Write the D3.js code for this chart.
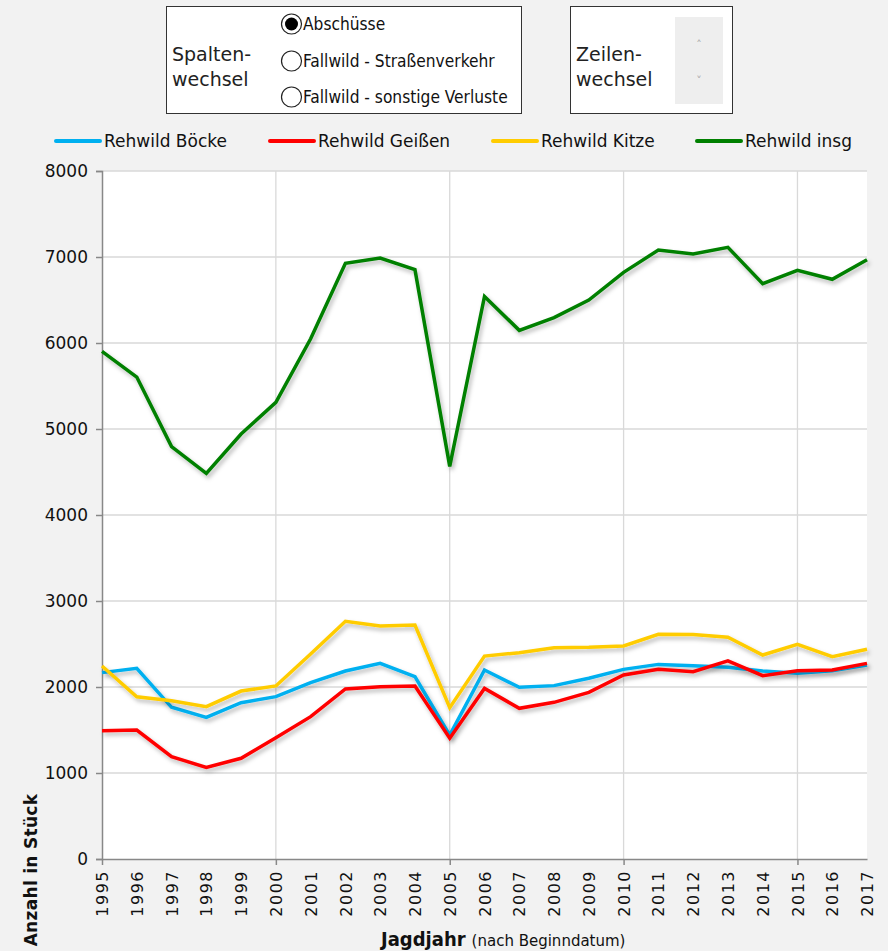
<!DOCTYPE html>
<html><head><meta charset="utf-8">
<script src="https://cdn.jsdelivr.net/npm/d3@7"></script>
<style>
html,body{margin:0;padding:0;background:#f2f2f2;}
svg{display:block;font-family:"DejaVu Sans",Verdana,sans-serif;}
</style></head>
<body><svg id="c" width="888" height="951"></svg>
<script>
const years = [1995,1996,1997,1998,1999,2000,2001,2002,2003,2004,2005,2006,2007,2008,2009,2010,2011,2012,2013,2014,2015,2016,2017];
const boecke = [2167,2217,1764,1647,1818,1888,2050,2186,2275,2120,1440,2198,1996,2016,2101,2205,2263,2248,2229,2186,2159,2190,2256];
const geissen = [1492,1500,1190,1066,1171,1410,1655,1977,2004,2012,1405,1984,1752,1822,1938,2140,2205,2178,2305,2132,2190,2198,2275];
const kitze = [2244,1887,1841,1771,1953,2012,2384,2764,2709,2721,1760,2360,2399,2457,2461,2477,2613,2610,2578,2372,2496,2353,2438];
const insg = [5903,5604,4795,4484,4942,5310,6049,6927,6988,6853,4565,6542,6147,6295,6500,6822,7081,7036,7112,6690,6845,6741,6969];
const seriesNames = ["Rehwild Böcke","Rehwild Geißen","Rehwild Kitze","Rehwild insg"];
const seriesColors = ["#00b0f0","#ff0000","#ffcc00","#008000"];
const yTicks = [0,1000,2000,3000,4000,5000,6000,7000,8000];
const radioLabels = ["Abschüsse","Fallwild - Straßenverkehr","Fallwild - sonstige Verluste"];

const svg = d3.select("#c");
const defs = svg.append("defs");
const f = defs.append("filter").attr("id","sh").attr("x","-5%").attr("y","-5%").attr("width","110%").attr("height","120%");
f.append("feDropShadow").attr("dx",2).attr("dy",3).attr("stdDeviation",2).attr("flood-color","#000").attr("flood-opacity",0.28);

svg.append("rect").attr("width",888).attr("height",951).attr("fill","#f2f2f2");

// control boxes
const b1 = svg.append("g");
b1.append("rect").attr("x",166.5).attr("y",6.5).attr("width",355).attr("height",107).attr("fill","#fff").attr("stroke","#333");
b1.append("text").attr("x",172).attr("y",61).attr("font-size",19).attr("fill","#222").text("Spalten-");
b1.append("text").attr("x",172).attr("y",86).attr("font-size",19).attr("fill","#222").text("wechsel");
radioLabels.forEach((t,i)=>{
  const cy = [24,61,97][i];
  b1.append("circle").attr("cx",291.5).attr("cy",cy).attr("r",10).attr("fill","#fff").attr("stroke","#222").attr("stroke-width",1.2);
  if(i===0) b1.append("circle").attr("cx",291.5).attr("cy",cy).attr("r",6.5).attr("fill","#000");
  b1.append("text").attr("x",303).attr("y",cy+6).attr("font-family","DejaVu Sans Condensed").attr("font-size",17.2).attr("fill","#111").text(t);
});
const b2 = svg.append("g");
b2.append("rect").attr("x",570.5).attr("y",6.5).attr("width",162).attr("height",107).attr("fill","#fff").attr("stroke","#333");
b2.append("text").attr("x",576).attr("y",61).attr("font-size",19).attr("fill","#222").text("Zeilen-");
b2.append("text").attr("x",576).attr("y",86).attr("font-size",19).attr("fill","#222").text("wechsel");
b2.append("rect").attr("x",675).attr("y",17).attr("width",48).attr("height",87).attr("fill","#eeeeee");
b2.append("text").attr("x",699).attr("y",48).attr("text-anchor","middle").attr("font-size",11).attr("fill","#aaa").text("˄");
b2.append("text").attr("x",699).attr("y",84).attr("text-anchor","middle").attr("font-size",11).attr("fill","#aaa").text("˅");

// scales
const x = d3.scalePoint().domain(years).range([102,867]);
const y = d3.scaleLinear().domain([0,8000]).range([859,171]);

// plot bg
svg.append("rect").attr("x",102).attr("y",171).attr("width",765).attr("height",688).attr("fill","#fff");

// grid
svg.append("g").selectAll("line").data(yTicks.filter(d=>d>0)).join("line")
  .attr("x1",102).attr("x2",867).attr("y1",d=>y(d)).attr("y2",d=>y(d)).attr("stroke","#d9d9d9").attr("stroke-width",1.3);
svg.append("g").selectAll("line").data(years.filter(d=>d%5===0 && d>1995)).join("line")
  .attr("x1",d=>x(d)).attr("x2",d=>x(d)).attr("y1",171).attr("y2",859).attr("stroke","#d9d9d9").attr("stroke-width",1.3);

// axes
const yAxis = svg.append("g").attr("transform","translate(102,0)")
  .call(d3.axisLeft(y).tickValues(yTicks).tickSize(6).tickPadding(8).tickFormat(d3.format("d")));
yAxis.select(".domain").attr("stroke","#888").attr("stroke-width",1.5);
yAxis.selectAll(".tick line").attr("stroke","#888").attr("stroke-width",1.5);
yAxis.selectAll("text").attr("font-size",17).attr("fill","#111").attr("font-family","DejaVu Sans");

const xAxis = svg.append("g").attr("transform","translate(0,859)")
  .call(d3.axisBottom(x).tickValues(years).tickSize(6).tickSizeOuter(0));
xAxis.select(".domain").attr("stroke","#888").attr("stroke-width",1.5);
xAxis.selectAll(".tick line").attr("stroke","#888").attr("stroke-width",1.5).attr("y2",d=>d%5===0?6:0);
xAxis.selectAll("text").attr("font-size",16).attr("fill","#111").attr("font-family","DejaVu Sans")
  .attr("letter-spacing",1.5)
  .attr("transform","rotate(-90)").attr("text-anchor","end").attr("dy","0.35em").attr("x",-11).attr("y",0);

// lines
const data = [boecke,geissen,kitze,insg];
const line = d3.line().x((d,i)=>x(years[i])).y(d=>y(d));
svg.append("g").selectAll("path").data(data).join("path")
  .attr("d",line).attr("fill","none").attr("stroke",(d,i)=>seriesColors[i]).attr("stroke-width",3.5)
  .attr("stroke-linejoin","miter").attr("filter","url(#sh)");

// legend
const legX = [56,270,493,697];
const lg = svg.append("g");
seriesNames.forEach((n,i)=>{
  lg.append("line").attr("x1",legX[i]).attr("x2",legX[i]+44).attr("y1",141).attr("y2",141).attr("stroke",seriesColors[i]).attr("stroke-width",4).attr("stroke-linecap","round");
  lg.append("text").attr("x",legX[i]+48).attr("y",147).attr("font-size",17).attr("fill","#111").text(n);
});

// axis titles
svg.append("text").attr("transform","translate(37,870) rotate(-90)").attr("text-anchor","middle")
  .attr("font-size",17).attr("font-weight","bold").attr("letter-spacing",0.3).attr("fill","#111").text("Anzahl in Stück");
const xt = svg.append("text").attr("x",381).attr("y",946).attr("fill","#111");
xt.append("tspan").attr("font-family","DejaVu Sans Condensed").attr("font-weight","bold").attr("font-size",20).text("Jagdjahr");
xt.append("tspan").attr("dx",6).attr("font-size",15).text("(nach Beginndatum)");
</script></body></html>
